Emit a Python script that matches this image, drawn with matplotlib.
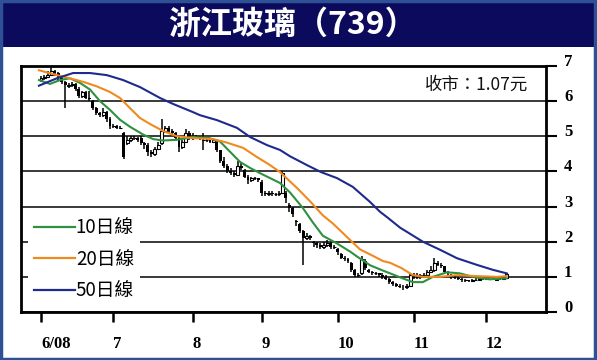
import matplotlib
matplotlib.use('Agg')
from matplotlib import pyplot as plt, patches
import numpy as np

# daily candles, one per trading day from early June 2008
opens = [6.60, 6.65, 6.70, 6.75, 6.85, 6.80, 6.65, 6.55, 6.42, 6.45,
         6.50, 6.35, 6.15, 6.25, 6.10, 6.00, 5.80, 5.65, 5.60, 5.70,
         5.50, 5.30, 5.30, 5.25, 5.10, 4.80, 4.90, 4.95, 4.95, 4.95,
         4.80, 4.75, 4.55, 4.50, 4.65, 4.80, 5.15, 5.25, 5.15, 5.10,
         4.95, 4.70, 4.85, 5.10, 4.95, 5.00, 5.00, 4.90, 4.90, 4.90,
         4.85, 4.85, 4.60, 4.30, 4.15, 4.00, 3.95, 3.90, 4.15, 4.05,
         3.85, 3.75, 3.80, 3.80, 3.70, 3.40, 3.35, 3.40, 3.35, 3.35,
         3.40, 3.40, 3.05, 2.95, 2.60, 2.50, 2.30, 2.10, 2.15, 2.00,
         1.95, 1.90, 1.85, 1.90, 1.95, 1.85, 1.80, 1.65, 1.55, 1.50,
         1.40, 1.20, 1.05, 1.10, 1.45, 1.20, 1.15, 1.10, 1.10, 1.05,
         1.00, 0.95, 0.85, 0.80, 0.75, 0.72, 0.70, 0.75, 1.05, 1.00,
         1.05, 1.00, 1.05, 1.15, 1.20, 1.40, 1.35, 1.30, 1.15, 1.05,
         1.00, 0.98, 0.95, 0.90, 0.90, 0.88, 0.90, 0.92, 0.95, 0.93,
         0.95, 0.95, 0.92, 0.95, 0.93, 0.98]
closes = [6.65, 6.70, 6.75, 6.85, 6.80, 6.65, 6.55, 6.45, 6.45, 6.50,
          6.35, 6.15, 6.25, 6.10, 6.05, 5.80, 5.65, 5.60, 5.70, 5.50,
          5.30, 5.30, 5.25, 5.25, 4.40, 4.90, 4.95, 4.95, 4.90, 4.80,
          4.75, 4.55, 4.50, 4.65, 4.75, 5.15, 5.25, 5.15, 5.10, 4.95,
          4.70, 4.85, 5.10, 4.95, 5.00, 5.00, 4.95, 4.90, 4.90, 4.85,
          4.90, 4.60, 4.30, 4.15, 4.00, 3.95, 3.90, 4.15, 4.10, 3.85,
          3.75, 3.80, 3.80, 3.75, 3.40, 3.35, 3.40, 3.35, 3.35, 3.40,
          3.95, 3.25, 2.95, 2.80, 2.55, 2.30, 2.10, 2.15, 2.10, 1.95,
          1.90, 1.85, 1.90, 1.95, 1.85, 1.85, 1.70, 1.55, 1.50, 1.45,
          1.20, 1.05, 1.05, 1.50, 1.25, 1.15, 1.10, 1.10, 1.05, 1.00,
          0.95, 0.85, 0.80, 0.75, 0.72, 0.70, 0.75, 1.05, 1.00, 1.05,
          1.00, 1.05, 1.15, 1.20, 1.40, 1.35, 1.30, 1.15, 1.10, 1.00,
          0.98, 0.95, 0.90, 0.90, 0.88, 0.90, 0.92, 0.95, 0.93, 0.95,
          0.95, 0.92, 0.95, 0.93, 0.98, 1.07]
highs = [6.72, 6.75, 6.85, 7.00, 6.90, 6.82, 6.68, 6.58, 6.52, 6.55,
         6.52, 6.40, 6.30, 6.28, 6.30, 6.02, 5.82, 5.68, 5.80, 5.72,
         5.55, 5.35, 5.32, 5.28, 5.12, 5.00, 5.00, 5.00, 4.98, 5.00,
         4.85, 4.80, 4.60, 4.70, 4.85, 5.50, 5.30, 5.28, 5.20, 5.12,
         4.98, 4.90, 5.20, 5.15, 5.10, 5.05, 5.02, 5.10, 4.95, 4.92,
         4.95, 4.88, 4.62, 4.40, 4.20, 4.10, 4.00, 4.30, 4.25, 4.08,
         3.90, 3.85, 3.85, 3.82, 3.75, 3.45, 3.45, 3.45, 3.40, 3.45,
         4.00, 3.45, 3.10, 3.00, 2.62, 2.52, 2.32, 2.25, 2.20, 2.02,
         2.00, 1.95, 1.98, 2.05, 1.98, 1.90, 1.82, 1.68, 1.58, 1.55,
         1.42, 1.22, 1.10, 1.60, 1.50, 1.22, 1.18, 1.15, 1.12, 1.10,
         1.05, 0.98, 0.88, 0.82, 0.80, 0.78, 0.80, 1.10, 1.10, 1.12,
         1.08, 1.10, 1.20, 1.30, 1.55, 1.45, 1.40, 1.32, 1.18, 1.08,
         1.02, 1.00, 0.96, 0.94, 0.92, 0.93, 0.96, 0.98, 0.97, 0.98,
         0.98, 0.97, 0.98, 0.97, 1.02, 1.10]
lows = [6.55, 6.60, 6.65, 6.72, 6.72, 6.60, 6.50, 5.80, 6.38, 6.40,
        6.30, 6.10, 6.10, 6.05, 6.00, 5.75, 5.60, 5.55, 5.55, 5.40,
        5.20, 5.25, 5.22, 5.20, 4.35, 4.75, 4.85, 4.90, 4.85, 4.75,
        4.65, 4.45, 4.40, 4.45, 4.60, 4.75, 5.10, 5.10, 5.05, 4.90,
        4.55, 4.65, 4.80, 4.90, 4.90, 4.95, 4.90, 4.60, 4.85, 4.82,
        4.82, 4.55, 4.25, 4.10, 3.95, 3.90, 3.85, 3.88, 4.05, 3.80,
        3.65, 3.70, 3.75, 3.70, 3.30, 3.30, 3.30, 3.30, 3.30, 3.30,
        3.35, 3.10, 2.85, 2.70, 2.45, 2.25, 1.35, 2.05, 2.05, 1.85,
        1.82, 1.80, 1.80, 1.85, 1.80, 1.78, 1.62, 1.50, 1.45, 1.40,
        1.15, 1.00, 1.00, 1.05, 1.20, 1.10, 1.05, 1.05, 1.00, 0.95,
        0.90, 0.80, 0.75, 0.70, 0.68, 0.62, 0.65, 0.72, 0.95, 0.95,
        0.95, 0.98, 1.00, 1.10, 1.15, 1.30, 1.25, 1.10, 1.05, 0.95,
        0.94, 0.90, 0.86, 0.86, 0.85, 0.85, 0.88, 0.90, 0.90, 0.90,
        0.92, 0.90, 0.90, 0.90, 0.92, 0.95]

# moving averages (day index, price)
ma10_x = [-0.6, 2.6, 5.5, 8.4, 11.3, 14.2, 17.1, 20.0, 22.9, 25.8, 29.6, 32.5,
          35.4, 39.4, 44.0, 48.7, 51.9, 54.8, 57.7, 60.6, 63.5, 66.4, 69.3,
          72.2, 75.9, 78.8, 81.7, 85.8, 89.6, 91.6, 95.4, 99.1, 101.2, 104.5,
          107.8, 110.7, 113.6, 117.7, 121.4, 125.2, 130.1, 135.0]
ma10 = [6.60, 6.49, 6.60, 6.65, 6.52, 6.33, 6.00, 5.75, 5.47, 5.27, 5.05, 4.92,
        4.88, 4.90, 4.98, 4.95, 4.85, 4.56, 4.27, 4.10, 3.95, 3.81, 3.67,
        3.40, 2.96, 2.55, 2.17, 1.95, 1.72, 1.58, 1.33, 1.18, 1.10, 0.97,
        0.85, 0.85, 1.00, 1.13, 1.10, 1.00, 0.93, 0.96]
ma20_x = [-0.6, 4.6, 8.4, 12.2, 16.2, 20.0, 22.9, 25.8, 28.7, 31.6, 35.4, 39.4,
          44.0, 49.9, 53.9, 58.6, 62.6, 66.4, 69.3, 74.2, 78.0, 81.7, 84.6,
          89.6, 92.5, 96.2, 99.1, 101.2, 104.5, 107.8, 110.7, 115.7, 120.6,
          126.4, 132.2, 135.0]
ma20 = [6.88, 6.74, 6.65, 6.55, 6.42, 6.26, 6.09, 5.80, 5.52, 5.35, 5.15, 5.00,
        4.95, 4.92, 4.82, 4.67, 4.41, 4.18, 3.98, 3.53, 3.15, 2.75, 2.52,
        2.05, 1.78, 1.60, 1.45, 1.40, 1.25, 1.05, 1.00, 1.00, 1.05,
        1.02, 1.00, 1.02]
ma50_x = [-0.6, 4.6, 9.3, 14.2, 19.1, 23.8, 28.7, 34.5, 38.3, 44.0, 46.1, 51.0,
          56.8, 60.6, 65.5, 69.3, 72.2, 77.1, 81.2, 85.8, 90.4, 95.4, 98.3,
          100.3, 104.1, 110.7, 115.7, 120.6, 126.4, 131.0, 135.0]
ma50 = [6.44, 6.65, 6.80, 6.80, 6.74, 6.60, 6.40, 6.09, 5.92, 5.69, 5.60, 5.46,
        5.24, 4.98, 4.75, 4.61, 4.43, 4.18, 3.98, 3.81, 3.56, 3.13, 2.85,
        2.70, 2.40, 2.00, 1.77, 1.53, 1.34, 1.20, 1.10]

month_pos = [0, 21, 44, 64, 86, 108, 129]
month_labels = ['6/08', '7', '8', '9', '10', '11', '12']
price_ticks = [0, 1, 2, 3, 4, 5, 6, 7]

cjk = ['Noto Sans CJK TC', 'DejaVu Sans']
serif = 'Liberation Serif'

fig = plt.figure(figsize=(5.97, 3.6), dpi=100)
fig.patch.set_facecolor('white')

# title banner and outer frame
fig.patches.append(patches.Rectangle((0, 313 / 360), 1, 47 / 360, transform=fig.transFigure,
                                     facecolor='#0c0a5c', edgecolor='none', zorder=0))
fig.patches.append(patches.Rectangle((0.002, 0.004), 0.994, 0.993, transform=fig.transFigure,
                                     fill=False, edgecolor='#2d5194', lw=2.5, zorder=5))
fig.text(0.49, 1 - 25 / 360, '浙江玻璃（739）', color='white', fontsize=23, fontweight='heavy',
         family=cjk, ha='center', va='center')

ax = fig.add_axes([21 / 597, 48 / 360, 525 / 597, 246 / 360])

idx = np.arange(len(closes))
o = np.array(opens)
c = np.array(closes)
up = c >= o
ax.vlines(idx, lows, highs, color='black', lw=1.1, zorder=2)
ax.bar(idx[up], (c - o)[up], bottom=o[up], width=0.85, facecolor='white',
       edgecolor='black', lw=0.8, zorder=3)
ax.bar(idx[~up], (o - c)[~up], bottom=c[~up], width=0.85, color='black', lw=0, zorder=3)

l10, = ax.plot(ma10_x, ma10, color='#2e9140', lw=1.5, zorder=4, label='10日線')
l20, = ax.plot(ma20_x, ma20, color='#f08a1e', lw=1.5, zorder=4, label='20日線')
l50, = ax.plot(ma50_x, ma50, color='#1e2a8c', lw=1.5, zorder=4, label='50日線')

ax.set_xlim(-5.8, 146.4)
ax.set_ylim(0, 7)
ax.set_yticks(price_ticks)
ax.yaxis.tick_right()
ax.grid(axis='y', color='#2a2a2a', lw=1.3)
ax.set_axisbelow(True)
ax.set_xticks(month_pos)
ax.set_xticklabels(month_labels)
ax.tick_params(axis='y', direction='out', length=8, width=1.5, pad=5, labelsize=12)
ax.tick_params(axis='x', direction='out', length=7, width=1.8, pad=10, labelsize=12)
for lab in ax.get_xticklabels():
    lab.set_ha('left')
    lab.set_family(serif)
    lab.set_weight('bold')
for lab in ax.get_yticklabels():
    lab.set_va('baseline')
    lab.set_family(serif)
    lab.set_weight('bold')
for sp in ax.spines.values():
    sp.set_linewidth(2)
    sp.set_color('black')

ax.text(0.966, 0.923, '收市：1.07元', transform=ax.transAxes, ha='right', va='center',
        fontsize=12.5, family=cjk, color='#111111')

leg = ax.legend(handles=[l10, l20, l50], loc='lower left', bbox_to_anchor=(0.0133, 0.02),
                borderaxespad=0, borderpad=0.3, handlelength=2.2, handletextpad=0.05,
                labelspacing=0.57, frameon=True, fancybox=False,
                prop={'family': cjk, 'size': 13.5})
leg.get_frame().set_facecolor('white')
leg.get_frame().set_edgecolor('none')
leg.get_frame().set_alpha(1)
for line in leg.get_lines():
    line.set_linewidth(1.6)

fig.savefig('out.png', dpi=100)
